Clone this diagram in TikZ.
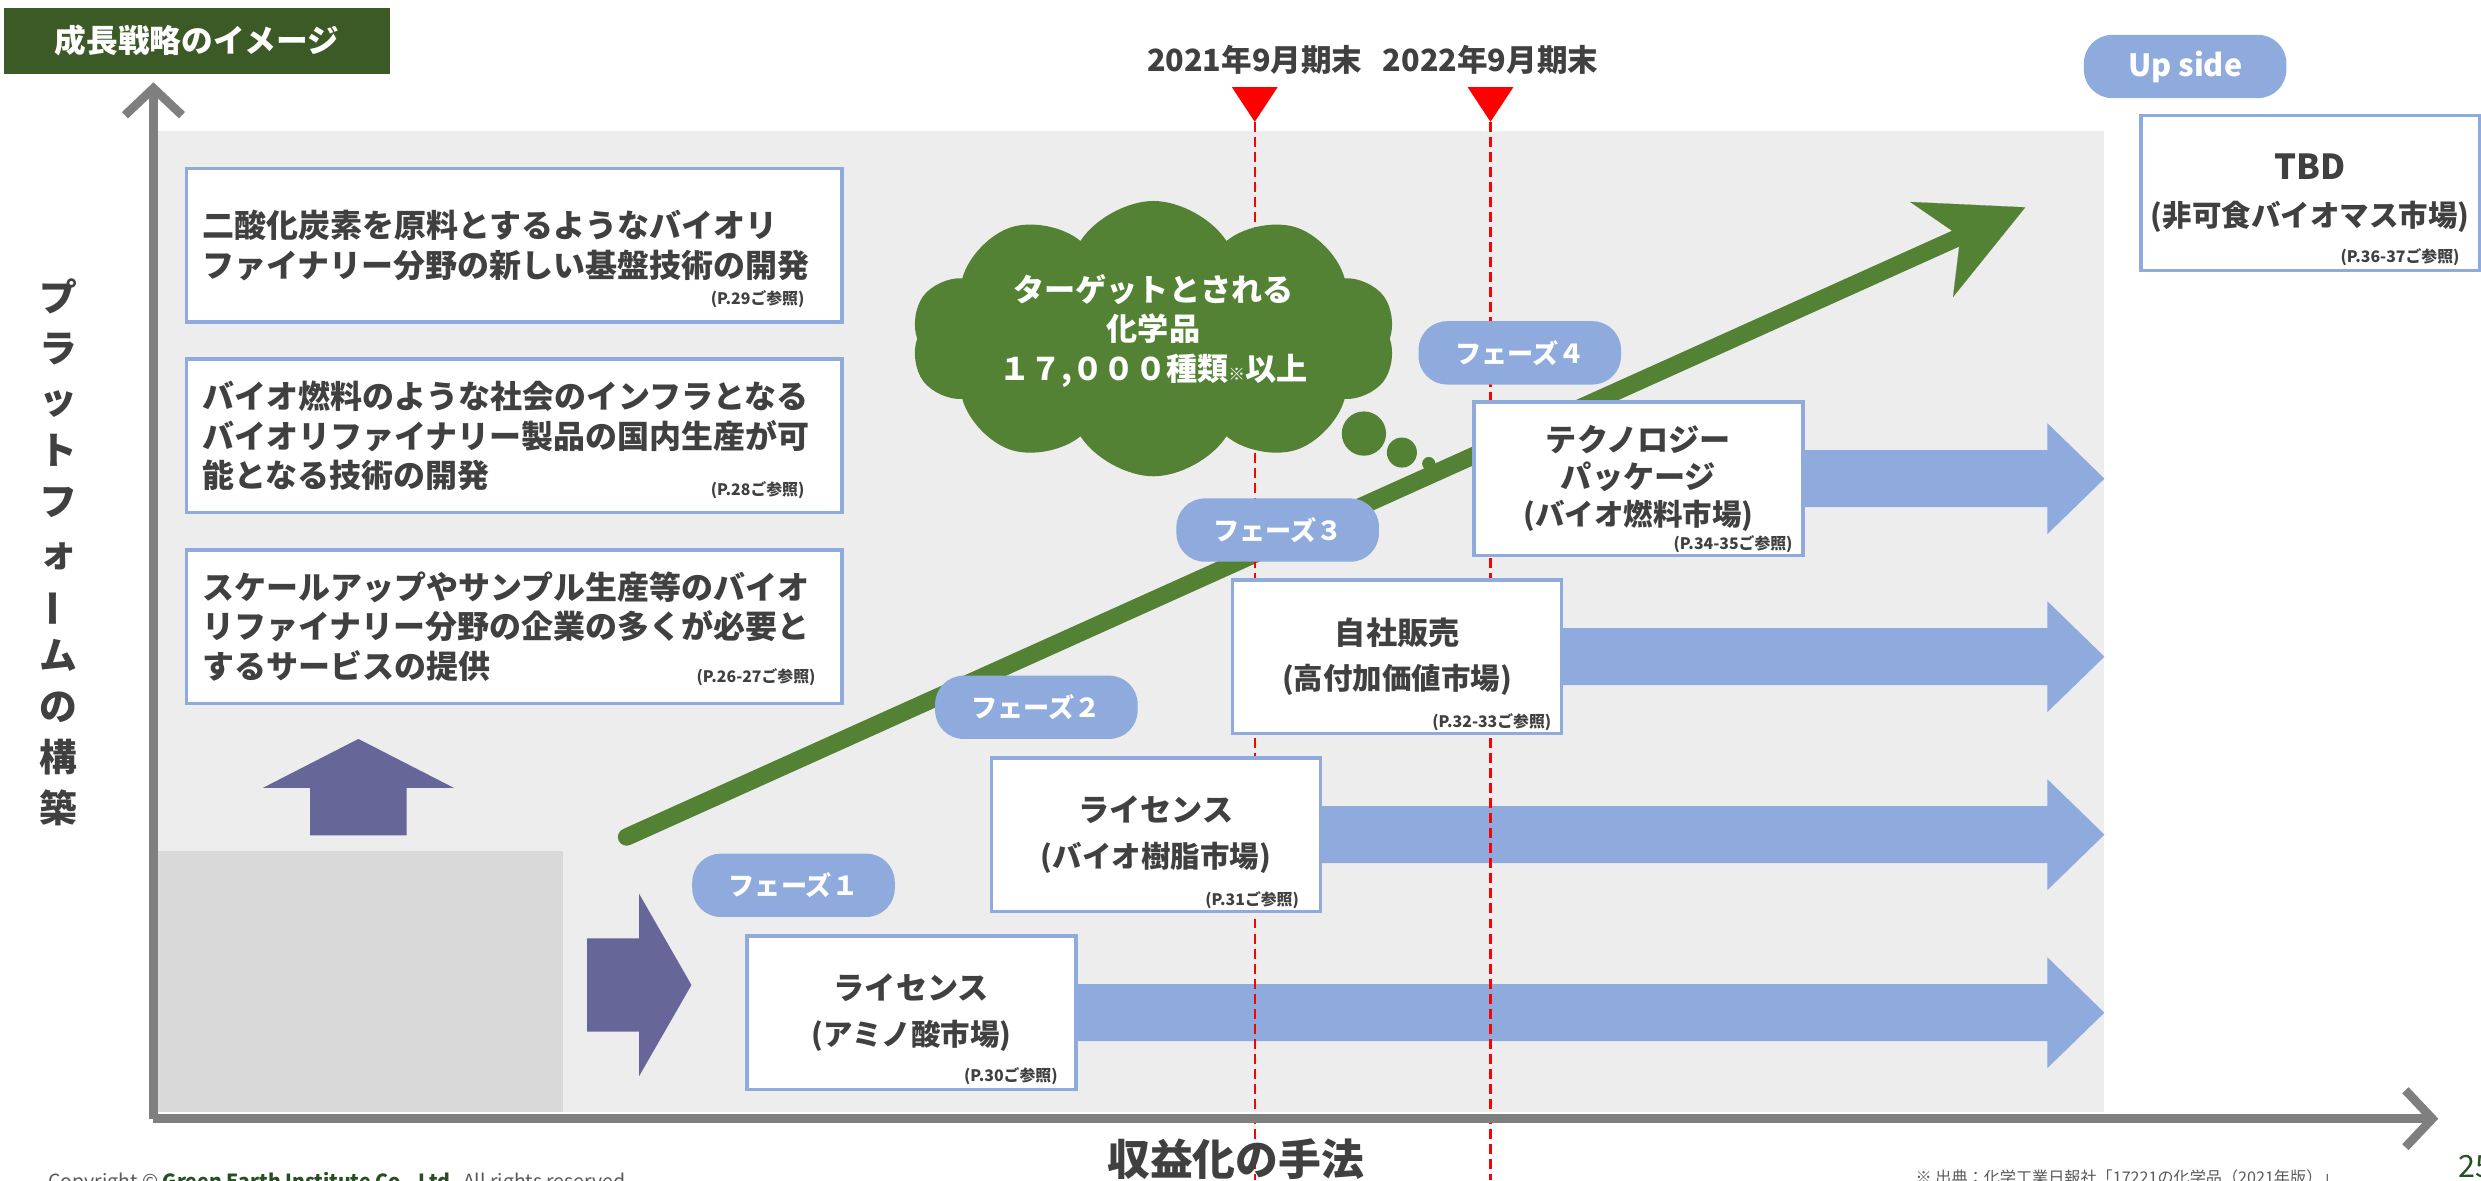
\documentclass[tikz,border=0pt]{standalone}
\usepackage{fontspec}
\setmainfont{Noto Sans CJK JP}
\usetikzlibrary{arrows.meta,shapes.symbols,positioning}

\definecolor{titlegreen}{HTML}{3B5A25}
\definecolor{gegreen}{HTML}{548235}
\definecolor{phaseblue}{HTML}{8FAADC}
\definecolor{axisgray}{HTML}{7F7F7F}
\definecolor{bggray}{HTML}{EDEDED}
\definecolor{basegray}{HTML}{D9D9D9}
\definecolor{txtgray}{HTML}{404040}
\definecolor{blockpurple}{HTML}{666699}
\definecolor{footgreen}{HTML}{264F22}
\definecolor{footgray}{HTML}{595959}

\newcommand\subline[1]{{\fontsize{5.3}{8.25}\selectfont #1}}

\tikzset{
  panel/.style={draw=phaseblue, line width=0.22mm, fill=white, inner sep=0pt},
  leftbox/.style={panel, minimum width=41.4mm, minimum height=9.7mm, text width=39.4mm,
    inner xsep=1mm, align=left, text=txtgray, font=\bfseries\fontsize{5.75}{7.1}\selectfont},
  goal/.style={panel, minimum width=20.8mm, minimum height=9.7mm, align=center,
    text=txtgray, font=\bfseries\fontsize{5.6}{8.25}\selectfont},
  reftext/.style={text=txtgray, inner sep=0pt, anchor=base east,
    font=\bfseries\fontsize{2.85}{3}\selectfont},
  pill/.style={fill=phaseblue, rounded corners=1.8mm, minimum width=12.8mm,
    minimum height=4mm, inner sep=0pt, text=white, font=\bfseries\fontsize{4.7}{5}\selectfont},
  axis/.style={draw=axisgray, line width=0.55mm, -{Straight Barb[length=1.7mm,width=3.6mm]}},
  growth/.style={draw=gegreen, line width=1.1mm, line cap=round,
    -{Stealth[length=6.5mm,width=6.6mm,inset=2mm,line width=0.01mm]}},
  cutoff/.style={draw=red, line width=0.13mm, dash pattern=on 0.63mm off 0.32mm},
  datelabel/.style={text=txtgray, font=\bfseries\fontsize{5.5}{6}\selectfont},
  flow/.style={fill=phaseblue},
  block/.style={fill=blockpurple},
}

\begin{document}
\begin{tikzpicture}[x=0.1mm, y=-0.1mm]
\useasboundingbox (0,0) rectangle (1568,746);
\clip (0,0) rectangle (1568,746);

% background area
\fill[bggray] (100,83) rectangle (1330,703);
\fill[basegray] (100,538) rectangle (356,703);

% market arrows
\foreach \xs/\yc in {680/640, 834/527.5, 987/415, 1139/302.5}
  \fill[flow] (\xs,\yc-18) -- (1294,\yc-18) -- (1294,\yc-35) -- (1330,\yc)
    -- (1294,\yc+35) -- (1294,\yc+18) -- (\xs,\yc+18) -- cycle;

% growth arrow
\coordinate (gs) at (396,529);
\coordinate (ge) at (1280,131);
\draw[growth] (gs) -- (ge);

% fiscal year marks
\foreach \x/\n/\t in {793/d1/2021年9月期末, 942/d2/2022年9月期末}{
  \node[datelabel] (\n) at (\x,38) {\t};
  \coordinate (\n-a) at (\x,77);
  \coordinate (\n-b) at (\x,746);
  \draw[cutoff] (\n-a) -- (\n-b);
  \fill[red] (\x-14.5,55) -- (\x+14.5,55) -- (\n-a) -- cycle;
}

% axes
\coordinate (O) at (97,707);
\coordinate (ytip) at (97,52);
\coordinate (xtip) at (1541,707);
\draw[axis] (O) -- (ytip);
\draw[axis] (O) -- (xtip);

% platform arrows
\fill[block] (196,528) -- (196,498) -- (166,498) -- (226.5,467) -- (287,498)
  -- (257,498) -- (257,528) -- cycle;
\fill[block] (371,593) -- (404,593) -- (404,565) -- (437,622.5) -- (404,680)
  -- (404,652) -- (371,652) -- cycle;

% platform boxes
\node[leftbox] (p1) at (325,155) {二酸化炭素を原料とするようなバイオリ\\ファイナリー分野の新しい基盤技術の開発};
\node[reftext] (p1ref) at ([xshift=-2.4mm,yshift=1.2mm]p1.south east) {(P.29ご参照)};
\node[leftbox] (p2) at (325,275.5) {バイオ燃料のような社会のインフラとなる\\バイオリファイナリー製品の国内生産が可\\能となる技術の開発};
\node[reftext] (p2ref) at ([xshift=-2.4mm,yshift=1.2mm]p2.south east) {(P.28ご参照)};
\node[leftbox] (p3) at (325,396) {スケールアップやサンプル生産等のバイオ\\リファイナリー分野の企業の多くが必要と\\するサービスの提供};
\node[reftext] (p3ref) at ([xshift=-1.7mm,yshift=1.4mm]p3.south east) {(P.26-27ご参照)};

% monetization boxes
\node[goal] (m1) at (576,640) {ライセンス\\\subline{(アミノ酸市場)}};
\node[reftext] (m1ref) at ([xshift=-1.2mm,yshift=0.6mm]m1.south east) {(P.30ご参照)};
\node[goal] (m2) at (730.5,527.5) {ライセンス\\\subline{(バイオ樹脂市場)}};
\node[reftext] (m2ref) at ([xshift=-1.4mm,yshift=0.5mm]m2.south east) {(P.31ご参照)};
\node[goal] (m3) at (883,415) {自社販売\\\subline{(高付加価値市場)}};
\node[reftext] (m3ref) at ([xshift=-0.7mm,yshift=0.5mm]m3.south east) {(P.32-33ご参照)};
\node[goal, font=\bfseries\fontsize{5.6}{6.7}\selectfont] (m4) at (1035.5,302.5) {テクノロジー\\パッケージ\\\subline{(バイオ燃料市場)}};
\node[reftext] (m4ref) at ([xshift=-0.7mm,yshift=0.5mm]m4.south east) {(P.34-35ご参照)};
\node[goal, minimum width=21.4mm, minimum height=9.8mm, font=\bfseries\fontsize{6.2}{8.5}\selectfont] (tbd) at (1460,122) {TBD\\\subline{(非可食バイオマス市場)}};
\node[reftext] (tbdref) at ([xshift=-1.3mm,yshift=0.6mm]tbd.south east) {(P.36-37ご参照)};

% phases
\node[pill] (ph1) at (501.5,559.5) {フェーズ１};
\node[pill] (ph2) at (655,447) {フェーズ２};
\node[pill] (ph3) at (807.5,335) {フェーズ３};
\node[pill] (ph4) at (960.5,223) {フェーズ４};
\node[pill, font=\bfseries\fontsize{5.5}{6}\selectfont] (up) at (1381,42) {Up side};

% target cloud
\node[cloud, cloud puffs=10, cloud puff arc=115, aspect=1.8, fill=gegreen,
  minimum width=30.6mm, minimum height=17.4mm, inner sep=0pt] (cloud) at (729,214) {};
\node[text=white, align=center, font=\bfseries\fontsize{5.6}{7.1}\selectfont] (cloudtxt) at (729,209)
  {ターゲットとされる\\化学品\\１７,０００種類{\fontsize{3}{3}\selectfont ※}以上};
\fill[gegreen] (862,274) circle[radius=1.4mm] (886,286) circle[radius=0.95mm]
  (903,293) circle[radius=0.42mm];

% title and axis labels
\node[fill=titlegreen, minimum width=24.35mm, minimum height=4.15mm, inner sep=0pt,
  text=white, font=\bfseries\fontsize{5.7}{6}\selectfont] (title) at (124.5,25.75) {成長戦略のイメージ};
\node[text=txtgray, align=center, font=\bfseries\fontsize{6.8}{9.2}\selectfont] (ylab) at (37,349)
  {プ\\ラ\\ッ\\ト\\フ\\ォ\\\rotatebox[origin=c]{90}{ー}\\ム\\の\\構\\築};
\node[text=txtgray, anchor=base, inner sep=0pt, font=\bfseries\fontsize{7.7}{8}\selectfont] (xlab) at (781,743) {収益化の手法};

% footer
\node[anchor=base west, inner sep=0pt, text=footgray, font=\fontsize{3.5}{4}\selectfont] (copy) at (30,751)
  {Copyright © {\bfseries\color{footgreen}Green Earth Institute Co., Ltd.} All rights reserved.};
\node[anchor=base west, inner sep=0pt, text=footgray, font=\fontsize{2.9}{3}\selectfont] (src) at (1210,748)
  {※ 出典：化学工業日報社「17221の化学品（2021年版）」};
\node[anchor=base west, inner sep=0pt, text=footgreen, font=\fontsize{5.5}{6}\selectfont] (pg) at (1553,744) {25};
\end{tikzpicture}
\end{document}
